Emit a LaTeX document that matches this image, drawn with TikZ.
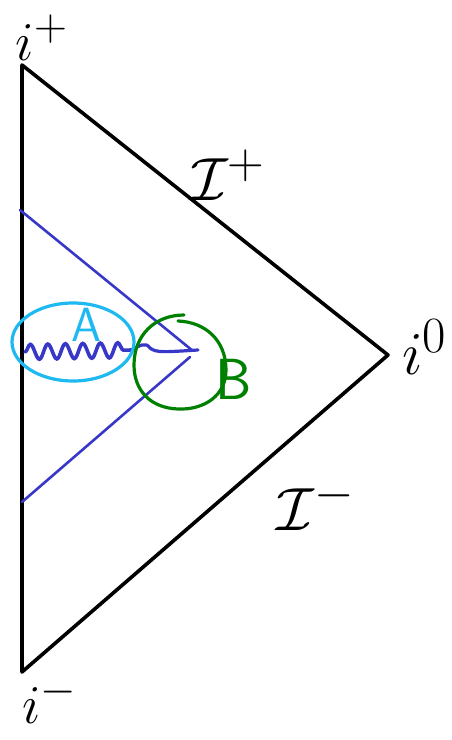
\documentclass[tikz,border=0pt]{standalone}
\usepackage{graphicx}
\usetikzlibrary{decorations.pathmorphing}
\definecolor{lineblue}{RGB}{55,55,200}
\definecolor{cyanA}{RGB}{30,185,240}
\definecolor{greenB}{RGB}{0,128,0}
\newcommand{\biglbl}[1]{\scalebox{2.45}{\Huge$#1$}}
\newcommand{\cornerlbl}[1]{\scalebox{2.2}{\Huge$#1$}}
\begin{document}
\begin{tikzpicture}[x=1pt,y=-1pt,
  edge/.style={line width=3.6pt,line join=round,line cap=round},
  horizon/.style={lineblue,line width=2.6pt,line cap=round},
  lbl/.style={inner sep=0pt},
  handA/.style={font=\sffamily\fontsize{48}{48}\selectfont,inner sep=0pt}]
\useasboundingbox (0,0) rectangle (451,740);
% vertices
\coordinate (top) at (22,65);
\coordinate (right) at (388,355);
\coordinate (bot) at (22,672);
\draw[edge] (top) -- (right) -- (bot) -- cycle;
% blue horizon
\coordinate (h1) at (20,210);
\coordinate (tip) at (193,351);
\coordinate (tip2) at (190,357);
\coordinate (h2) at (22,502);
\draw[horizon] (h1) -- (tip);
\draw[horizon] (tip2) -- (h2);
% wavy singular line
\coordinate (w0) at (25,352);
\coordinate (w1) at (132,350);
\coordinate (w2) at (198,350);
\draw[lineblue,line width=3.6pt,line cap=round,decorate,
  decoration={snake,segment length=17.5pt,amplitude=7.5pt}] (w0) -- (w1);
\draw[lineblue,line width=3.2pt,line cap=round]
  (w1) .. controls (140,345) and (146,342) .. (150,348)
  .. controls (156,353) and (165,352) .. (w2);
% region A
\draw[cyanA,line width=3.2pt] (73,342) ellipse [x radius=61, y radius=39];
\node[handA,text=cyanA] (A) at (86,325) {A};
% region B
\draw[greenB,line width=3.2pt,line cap=round] (178,321)
  .. controls (205,322) and (226,340) .. (226,370)
  .. controls (226,395) and (205,410) .. (178,409)
  .. controls (150,408) and (134,390) .. (134,365)
  .. controls (134,335) and (155,315) .. (184,315);
\node[handA,text=greenB,font=\sffamily\fontsize{58}{58}\selectfont] (B) at (234,379) {B};
% labels
\node[lbl] (ip) at (42,38) {\cornerlbl{i^+}};
\node[lbl] (i0) at (425,347) {\biglbl{i^0}};
\node[lbl] (im) at (50,700) {\cornerlbl{i^-}};
\node[lbl] (sp) at (228,175) {\biglbl{\mathcal{I}^+}};
\node[lbl] (sm) at (316,505) {\biglbl{\mathcal{I}^-}};
\end{tikzpicture}
\end{document}
